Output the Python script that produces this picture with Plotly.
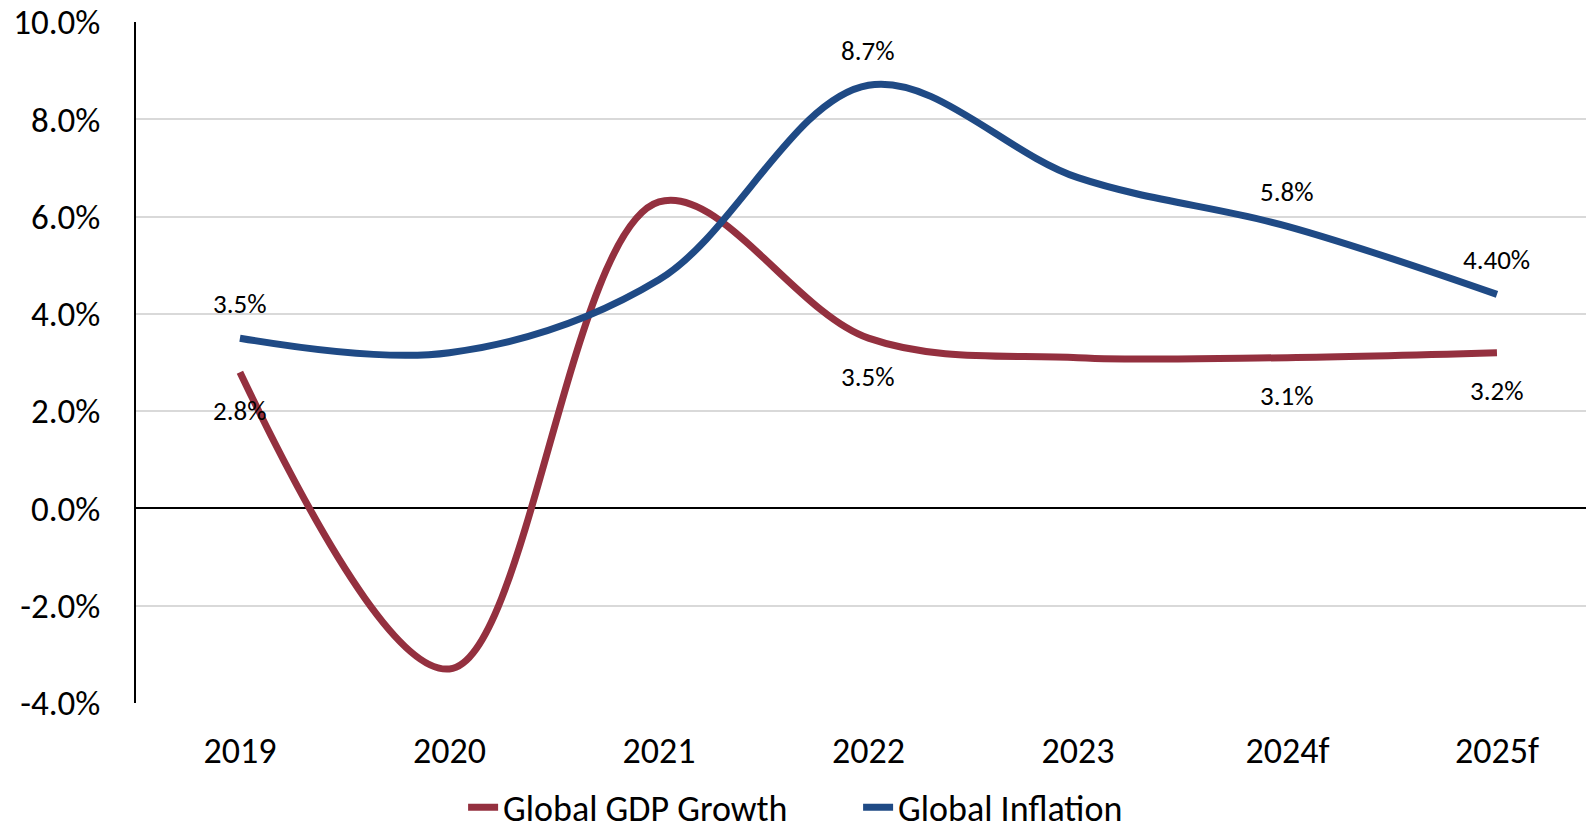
import plotly.graph_objects as go

years = ["2019", "2020", "2021", "2022", "2023", "2024f", "2025f"]
gdp_growth = [2.8, -3.3, 6.3, 3.5, 3.1, 3.1, 3.2]
inflation = [3.5, 3.2, 4.7, 8.7, 6.8, 5.8, 4.4]
gdp_labels = ["2.8%", None, None, "3.5%", None, "3.1%", "3.2%"]
infl_labels = ["3.5%", None, None, "8.7%", None, "5.8%", "4.40%"]
y_ticks = [-4, -2, 0, 2, 4, 6, 8, 10]
y_ticktext = ["-4.0%", "-2.0%", "0.0%", "2.0%", "4.0%", "6.0%", "8.0%", "10.0%"]

RED = "#94303F"
BLUE = "#1F4A85"
FONT = "Calibri, Carlito, Lato, sans-serif"

fig = go.Figure()
fig.add_trace(go.Scatter(
    x=years, y=gdp_growth, name="Global GDP Growth", mode="lines",
    line=dict(color=RED, width=7, shape="spline", smoothing=1.0),
))
fig.add_trace(go.Scatter(
    x=years, y=inflation, name="Global Inflation", mode="lines",
    line=dict(color=BLUE, width=7, shape="spline", smoothing=1.0),
))

annotations = []
for i, (y, t) in enumerate(zip(gdp_growth, gdp_labels)):
    if t:
        annotations.append(dict(x=i, y=y, xref="x", yref="y", text=t, showarrow=False,
                                yshift=-38, font=dict(family=FONT, size=27, color="#000000")))
for i, (y, t) in enumerate(zip(inflation, infl_labels)):
    if t:
        annotations.append(dict(x=i, y=y, xref="x", yref="y", text=t, showarrow=False,
                                yshift=35, font=dict(family=FONT, size=27, color="#000000")))

fig.update_layout(
    width=1586, height=834,
    margin=dict(l=136, r=0, t=22, b=131, autoexpand=False),
    paper_bgcolor="white", plot_bgcolor="white",
    font=dict(family=FONT, size=36, color="#000000"),
    showlegend=True,
    legend=dict(orientation="h", x=0.498, xanchor="center",
                yref="container", y=0.032, yanchor="middle",
                font=dict(family=FONT, size=36, color="#000000"),
                entrywidth=350, entrywidthmode="pixels",
                traceorder="normal", bgcolor="rgba(0,0,0,0)"),
    annotations=annotations,
)
fig.update_xaxes(
    type="category", range=[-0.496, 6.425], showgrid=False, showline=False,
    ticks="", ticklabelstandoff=23, tickfont=dict(family=FONT, size=36),
    zeroline=False,
)
fig.update_yaxes(
    range=[-4, 10], tickvals=y_ticks, ticktext=y_ticktext,
    showgrid=True, gridcolor="#D9D9D9", gridwidth=1.5,
    zeroline=True, zerolinecolor="#000000", zerolinewidth=1.5,
    showline=True, linecolor="#000000", linewidth=1.5,
    ticks="", ticklabelstandoff=27, tickfont=dict(family=FONT, size=35),
)

fig.write_html("out.html")
